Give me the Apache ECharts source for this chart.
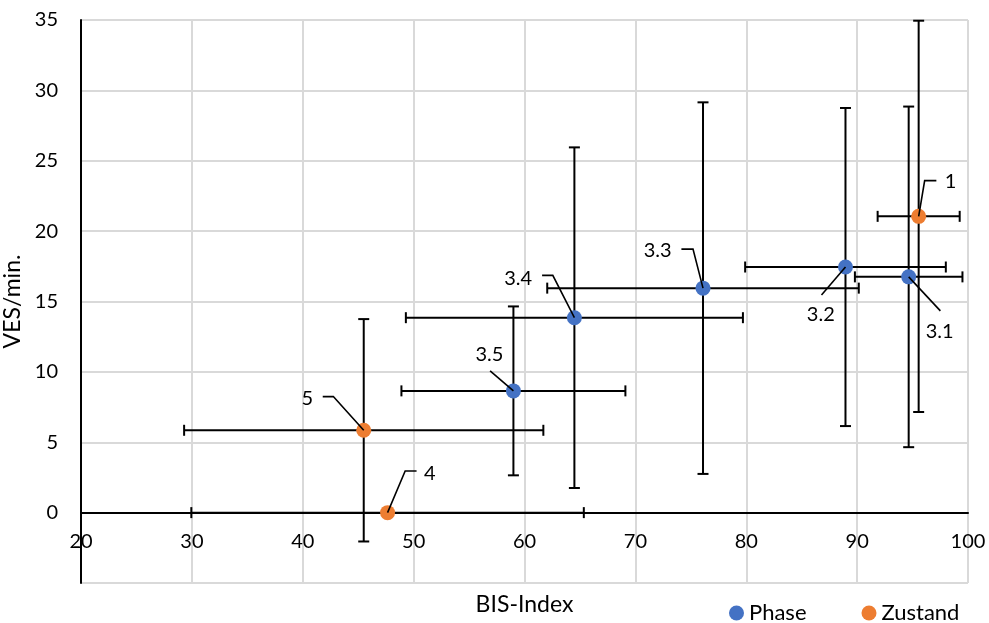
<!DOCTYPE html>
<html>
<head>
<meta charset="utf-8">
<script src="https://cdn.jsdelivr.net/npm/echarts@6/dist/echarts.min.js"></script>
<style>html,body{margin:0;padding:0;background:#fff;}#c{width:989px;height:623px;}</style>
</head>
<body>
<div id="c"></div>
<script>
// ---- data ----
const xTicks = [20, 30, 40, 50, 60, 70, 80, 90, 100];
const yTicks = [0, 5, 10, 15, 20, 25, 30, 35];
const yMin = -5;

const phaseLabels = ['3.1', '3.2', '3.3', '3.4', '3.5'];
const phaseX      = [94.65, 88.95, 76.1, 64.5, 59.0];
const phaseY      = [16.75, 17.45, 15.95, 13.85, 8.65];
const phaseXErr   = [4.85, 9.05, 14.05, 15.2, 10.1];
const phaseYErr   = [12.1, 11.3, 13.2, 12.1, 6.0];

const zustandLabels = ['1', '4', '5'];
const zustandX      = [95.55, 47.65, 45.5];
const zustandY      = [21.05, 0, 5.85];
const zustandXErr   = [3.7, 17.7, 16.2];
const zustandYErr   = [13.9, 0, 7.9];

// ---- label placement (pixel offsets from the point) ----
const labelPlace = {
  '3.1': { pts: [[31.7, 34]], text: [31, 55] },
  '3.2': { pts: [[-24, 28]], text: [-24.7, 47.3] },
  '3.3': { pts: [[-10, -39], [-21.6, -39]], text: [-45.3, -37.6] },
  '3.4': { pts: [[-21.6, -42.3], [-32.3, -42.3]], text: [-56.3, -39] },
  '3.5': { pts: [[-23.3, -20]], text: [-24, -36.7] },
  '5':   { pts: [[-30.4, -33.7], [-41, -33.7]], text: [-56.4, -31.7] },
  '4':   { pts: [[17.6, -41.6], [29, -41.6]], text: [42.3, -39] },
  '1':   { pts: [[6, -35.7], [17.7, -35.7]], text: [32, -34.3] }
};

const FONT = 'Lato, "Open Sans", sans-serif';
const BLUE = '#4472C4', ORANGE = '#ED7D31';
const GRID = { left: 81, right: 21, top: 20, bottom: 40 };
const W = 989, H = 623;

function zip(xs, ys) { return xs.map((x, i) => [x, ys[i]]); }
function zipErr(xs, ys, ex, ey) { return xs.map((x, i) => [x, ys[i], ex[i], ey[i]]); }

function errRender(params, api) {
  const x = api.value(0), y = api.value(1), ex = api.value(2), ey = api.value(3);
  const st = { stroke: '#000', lineWidth: 2 };
  const cap = 5.5;
  const ch = [];
  if (ex > 0) {
    const l = api.coord([x - ex, y]), r = api.coord([x + ex, y]);
    ch.push({ type: 'line', shape: { x1: l[0], y1: l[1], x2: r[0], y2: r[1] }, style: st });
    ch.push({ type: 'line', shape: { x1: l[0], y1: l[1] - cap, x2: l[0], y2: l[1] + cap }, style: st });
    ch.push({ type: 'line', shape: { x1: r[0], y1: r[1] - cap, x2: r[0], y2: r[1] + cap }, style: st });
  }
  if (ey > 0) {
    const t = api.coord([x, y + ey]), b = api.coord([x, y - ey]);
    ch.push({ type: 'line', shape: { x1: t[0], y1: t[1], x2: b[0], y2: b[1] }, style: st });
    ch.push({ type: 'line', shape: { x1: t[0] - cap, y1: t[1], x2: t[0] + cap, y2: t[1] }, style: st });
    ch.push({ type: 'line', shape: { x1: b[0] - cap, y1: b[1], x2: b[0] + cap, y2: b[1] }, style: st });
  }
  return { type: 'group', children: ch };
}

function labelRender(labels) {
  return function (params, api) {
    const c = api.coord([api.value(0), api.value(1)]);
    const p = labelPlace[labels[params.dataIndex]];
    const pts = [[c[0], c[1]]].concat(p.pts.map(q => [c[0] + q[0], c[1] + q[1]]));
    return {
      type: 'group',
      children: [
        { type: 'polyline', shape: { points: pts }, style: { stroke: '#000', lineWidth: 1.6, fill: null } },
        { type: 'text', x: c[0] + p.text[0], y: c[1] + p.text[1],
          style: { text: labels[params.dataIndex], fill: '#000', font: '20px ' + FONT, align: 'center', verticalAlign: 'middle' } }
      ]
    };
  };
}

// x axis sits at y = 0: shift it up from the grid bottom by the height of [yMin, 0]
const yMax = yTicks[yTicks.length - 1];
const gridH = H - GRID.top - GRID.bottom;
const xAxisOffset = -gridH * (0 - yMin) / (yMax - yMin);

const chart = echarts.init(document.getElementById('c'), null, { renderer: 'canvas' });
chart.setOption({
  animation: false,
  backgroundColor: '#fff',
  textStyle: { fontFamily: FONT },
  grid: Object.assign({ containLabel: false, outerBoundsMode: 'none' }, GRID),
  legend: {
    data: ['Phase', 'Zustand'],
    icon: 'circle', itemWidth: 15, itemHeight: 15, itemGap: 55,
    left: 724, top: 597,
    textStyle: { fontSize: 22, color: '#000', fontFamily: FONT }
  },
  xAxis: {
    type: 'value', min: xTicks[0], max: xTicks[xTicks.length - 1], interval: 10,
    position: 'bottom', offset: xAxisOffset,
    name: 'BIS-Index', nameLocation: 'middle', nameGap: 80,
    nameTextStyle: { fontSize: 23, color: '#000' },
    axisLine: { onZero: false, lineStyle: { color: '#000', width: 2 } },
    axisTick: { show: false },
    axisLabel: { fontSize: 20, color: '#000', margin: 19 },
    splitLine: { show: true, lineStyle: { color: '#d9d9d9', width: 2 } }
  },
  yAxis: {
    type: 'value', min: yMin, max: yMax, interval: 5,
    name: 'VES/min.', nameLocation: 'middle', nameGap: 49,
    nameTextStyle: { fontSize: 23, color: '#000' },
    axisLine: { show: true, onZero: false, lineStyle: { color: '#000', width: 2 } },
    axisTick: { show: false },
    axisLabel: { fontSize: 20, color: '#000', margin: 23,
      formatter: v => (yTicks.indexOf(v) >= 0 ? String(v) : '') },
    splitLine: { show: true, lineStyle: { color: '#d9d9d9', width: 2 } }
  },
  series: [
    { type: 'custom', name: 'phaseErr', z: 3, renderItem: errRender, clip: false,
      data: zipErr(phaseX, phaseY, phaseXErr, phaseYErr), silent: true },
    { type: 'scatter', name: 'Phase', z: 4, symbolSize: 15, itemStyle: { color: BLUE, opacity: 1 },
      data: zip(phaseX, phaseY), emphasis: { disabled: true } },
    { type: 'custom', name: 'zustandErr', z: 5, renderItem: errRender, clip: false,
      data: zipErr(zustandX, zustandY, zustandXErr, zustandYErr), silent: true },
    { type: 'scatter', name: 'Zustand', z: 6, symbolSize: 15, itemStyle: { color: ORANGE, opacity: 1 },
      data: zip(zustandX, zustandY), emphasis: { disabled: true } },
    { type: 'custom', name: 'phaseLbl', z: 7, renderItem: labelRender(phaseLabels), clip: false,
      data: zip(phaseX, phaseY), silent: true },
    { type: 'custom', name: 'zustandLbl', z: 7, renderItem: labelRender(zustandLabels), clip: false,
      data: zip(zustandX, zustandY), silent: true }
  ]
});
</script>
</body>
</html>
